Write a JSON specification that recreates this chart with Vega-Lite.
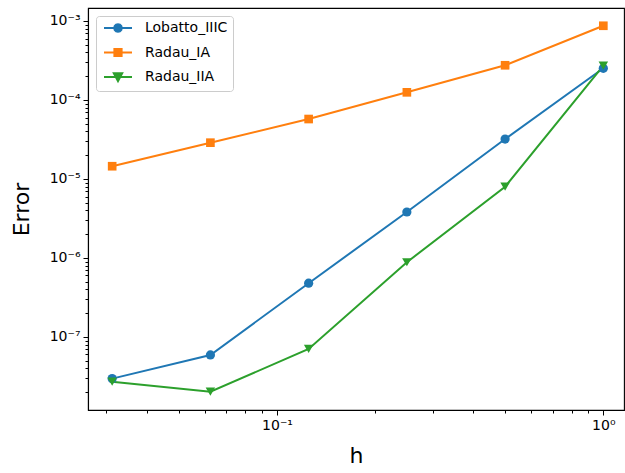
{
  "$schema": "https://vega.github.io/schema/vega-lite/v6.json",
  "autosize": "none",
  "padding": {"left": 88, "top": 8, "right": 1, "bottom": 63},
  "width": 536,
  "height": 402,
  "background": "white",
  "config": {
    "font": "DejaVu Sans",
    "view": {"stroke": "black", "strokeWidth": 1.1},
    "axis": {
      "grid": false,
      "domainColor": "black",
      "domainWidth": 1.1,
      "tickColor": "black",
      "labelColor": "black",
      "titleColor": "black",
      "labelFont": "DejaVu Sans",
      "titleFont": "DejaVu Sans",
      "labelFontSize": 14,
      "titleFontSize": 22,
      "titleFontWeight": "normal"
    }
  },
  "data": {
    "values": [
      {"h": 0.03125, "error": 2.97e-8, "series": "Lobatto_IIIC"},
      {"h": 0.0625, "error": 5.92e-8, "series": "Lobatto_IIIC"},
      {"h": 0.125, "error": 4.79e-7, "series": "Lobatto_IIIC"},
      {"h": 0.25, "error": 3.82e-6, "series": "Lobatto_IIIC"},
      {"h": 0.5, "error": 3.2e-5, "series": "Lobatto_IIIC"},
      {"h": 1, "error": 2.52e-4, "series": "Lobatto_IIIC"},
      {"h": 0.03125, "error": 1.45e-5, "series": "Radau_IA"},
      {"h": 0.0625, "error": 2.88e-5, "series": "Radau_IA"},
      {"h": 0.125, "error": 5.74e-5, "series": "Radau_IA"},
      {"h": 0.25, "error": 1.25e-4, "series": "Radau_IA"},
      {"h": 0.5, "error": 2.75e-4, "series": "Radau_IA"},
      {"h": 1, "error": 8.7e-4, "series": "Radau_IA"},
      {"h": 0.03125, "error": 2.72e-8, "series": "Radau_IIA"},
      {"h": 0.0625, "error": 2.03e-8, "series": "Radau_IIA"},
      {"h": 0.125, "error": 7.05e-8, "series": "Radau_IIA"},
      {"h": 0.25, "error": 8.83e-7, "series": "Radau_IIA"},
      {"h": 0.5, "error": 7.98e-6, "series": "Radau_IIA"},
      {"h": 1, "error": 2.72e-4, "series": "Radau_IIA"}
    ]
  },
  "encoding": {
    "x": {
      "field": "h", "type": "quantitative", "title": "h",
      "scale": {"type": "log", "domain": [0.02635, 1.157], "nice": false},
      "axis": {
        "values": [0.03, 0.04, 0.05, 0.06, 0.07, 0.08, 0.09, 0.1, 0.2, 0.3, 0.4, 0.5, 0.6, 0.7, 0.8, 0.9, 1],
        "labelExpr": "abs(log(datum.value)/LN10 - round(log(datum.value)/LN10)) < 1e-6 ? '10' + (round(log(datum.value)/LN10) < 0 ? '⁻' : '') + ['⁰','¹','²','³','⁴','⁵','⁶','⁷','⁸','⁹'][abs(round(log(datum.value)/LN10))] : ''",
        "tickSize": {"condition": {"test": "abs(log(datum.value)/LN10 - round(log(datum.value)/LN10)) < 1e-6", "value": 5}, "value": 3},
        "labelPadding": 3,
        "titlePadding": 13,
        "labelFlush": false
      }
    },
    "y": {
      "field": "error", "type": "quantitative", "title": "Error",
      "scale": {"type": "log", "domain": [1.19e-8, 1.46e-3], "nice": false},
      "axis": {
        "values": [2e-8, 3e-8, 4e-8, 5e-8, 6e-8, 7e-8, 8e-8, 9e-8, 1e-7, 2e-7, 3e-7, 4e-7, 5e-7, 6e-7, 7e-7, 8e-7, 9e-7, 1e-6, 2e-6, 3e-6, 4e-6, 5e-6, 6e-6, 7e-6, 8e-6, 9e-6, 1e-5, 2e-5, 3e-5, 4e-5, 5e-5, 6e-5, 7e-5, 8e-5, 9e-5, 1e-4, 2e-4, 3e-4, 4e-4, 5e-4, 6e-4, 7e-4, 8e-4, 9e-4, 1e-3],
        "labelExpr": "abs(log(datum.value)/LN10 - round(log(datum.value)/LN10)) < 1e-6 ? '10' + (round(log(datum.value)/LN10) < 0 ? '⁻' : '') + ['⁰','¹','²','³','⁴','⁵','⁶','⁷','⁸','⁹'][abs(round(log(datum.value)/LN10))] : ''",
        "tickSize": {"condition": {"test": "abs(log(datum.value)/LN10 - round(log(datum.value)/LN10)) < 1e-6", "value": 5}, "value": 3},
        "labelPadding": 3,
        "titlePadding": 16,
        "labelFlush": false
      }
    }
  },
  "layer": [
    {
      "mark": {"type": "point", "filled": true, "size": 0, "opacity": 1, "strokeWidth": 2},
      "encoding": {
        "fill": {"field": "series", "type": "nominal",
          "scale": {"domain": ["Lobatto_IIIC", "Radau_IA", "Radau_IIA"], "range": ["#1f77b4", "#ff7f0e", "#2ca02c"]},
          "legend": {
            "title": null, "orient": "top-left", "offset": 8,
            "symbolSize": 64, "symbolOpacity": 1, "symbolStrokeWidth": 2,
            "symbolOffset": 10, "labelOffset": 20,
            "labelFontSize": 14, "labelFont": "DejaVu Sans", "labelColor": "black",
            "rowPadding": 8.5, "padding": 5,
            "strokeColor": "#cccccc", "fillColor": "white", "cornerRadius": 3
          }},
        "stroke": {"field": "series", "type": "nominal",
          "scale": {"domain": ["Lobatto_IIIC", "Radau_IA", "Radau_IIA"], "range": ["#1f77b4", "#ff7f0e", "#2ca02c"]},
          "legend": {
            "title": null, "orient": "top-left", "offset": 8,
            "symbolSize": 64, "symbolOpacity": 1, "symbolStrokeWidth": 2,
            "symbolOffset": 10, "labelOffset": 20,
            "labelFontSize": 14, "labelFont": "DejaVu Sans", "labelColor": "black",
            "rowPadding": 8.5, "padding": 5,
            "strokeColor": "#cccccc", "fillColor": "white", "cornerRadius": 3
          }},
        "shape": {"field": "series", "type": "nominal",
          "scale": {"domain": ["Lobatto_IIIC", "Radau_IA", "Radau_IIA"],
            "range": ["M-3.5,0H3.5M0.95,0L0.823,0.475L0.475,0.823L0,0.95L-0.475,0.823L-0.823,0.475L-0.95,0L-0.823,-0.475L-0.475,-0.823L0,-0.95L0.475,-0.823L0.823,-0.475Z", "M-3.5,0H3.5M-0.9,-0.9H0.9V0.9H-0.9Z", "M-3.5,0H3.5M-1.05,-0.95H1.05L0,1.05Z"]},
          "legend": {
            "title": null, "orient": "top-left", "offset": 8,
            "symbolSize": 64, "symbolOpacity": 1, "symbolStrokeWidth": 2,
            "symbolOffset": 10, "labelOffset": 20,
            "labelFontSize": 14, "labelFont": "DejaVu Sans", "labelColor": "black",
            "rowPadding": 8.5, "padding": 5,
            "strokeColor": "#cccccc", "fillColor": "white", "cornerRadius": 3
          }}
      }
    },
    {
      "mark": {"type": "line", "strokeWidth": 2},
      "encoding": {
        "color": {"field": "series", "type": "nominal", "legend": null,
          "scale": {"domain": ["Lobatto_IIIC", "Radau_IA", "Radau_IIA"], "range": ["#1f77b4", "#ff7f0e", "#2ca02c"]}}
      }
    },
    {
      "transform": [{"filter": "datum.series === 'Lobatto_IIIC'"}],
      "mark": {"type": "point", "filled": true, "opacity": 1, "size": 85, "shape": "circle"},
      "encoding": {"color": {"field": "series", "type": "nominal", "legend": null}}
    },
    {
      "transform": [{"filter": "datum.series === 'Radau_IA'"}],
      "mark": {"type": "point", "filled": true, "opacity": 1, "size": 75, "shape": "square"},
      "encoding": {"color": {"field": "series", "type": "nominal", "legend": null}}
    },
    {
      "transform": [{"filter": "datum.series === 'Radau_IIA'"}],
      "mark": {"type": "point", "filled": true, "opacity": 1, "size": 90, "shape": "triangle-down"},
      "encoding": {"color": {"field": "series", "type": "nominal", "legend": null}}
    }
  ]
}
